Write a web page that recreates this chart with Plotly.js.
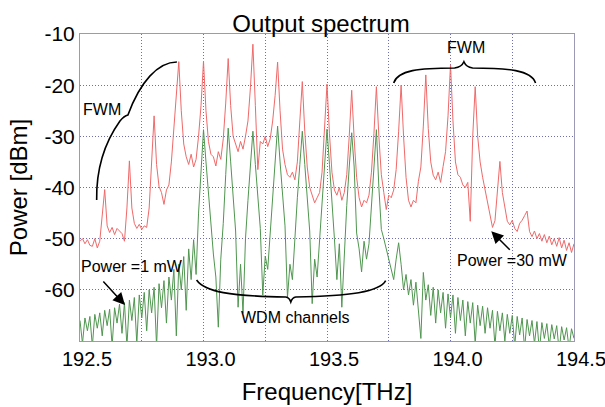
<!DOCTYPE html>
<html>
<head>
<meta charset="utf-8">
<script src="https://cdn.plot.ly/plotly-3.0.1.min.js"></script>
<style>html,body{margin:0;padding:0;background:#fff;}#chart{width:605px;height:407px;}</style>
</head>
<body>
<div id="chart"></div>
<script>
// Frequency sampling grid (THz), 0.01 THz step from 192.50 to 194.50
const freqStart = 192.5;
const freqStep = 0.01;
const freqCount = 201;

// Output power, input power = 30 mW (red)
const power30mW = [
-50.5,-50.0,-51.0,-50.2,-51.3,-51.5,-50.0,-51.8,-50.5,-46.0,
-40.4,-47.5,-48.8,-47.8,-49.2,-48.0,-48.5,-49.0,-50.5,-44.0,
-34.8,-44.0,-47.0,-48.0,-47.2,-48.2,-47.5,-47.8,-44.0,-36.0,
-26.0,-35.5,-39.8,-41.0,-43.3,-40.5,-39.5,-35.0,-28.0,-22.0,
-15.4,-25.0,-31.5,-34.0,-35.5,-33.5,-36.0,-34.5,-30.0,-24.0,
-15.3,-25.0,-31.0,-33.5,-34.0,-35.8,-33.0,-34.5,-30.5,-23.5,
-14.8,-24.0,-30.0,-31.5,-33.0,-31.0,-32.5,-30.0,-27.0,-20.5,
-12.0,-24.0,-36.5,-31.0,-31.5,-30.0,-32.0,-30.5,-27.0,-22.0,
-15.5,-25.0,-32.5,-35.5,-37.5,-38.0,-37.0,-38.5,-35.0,-27.0,
-19.3,-29.0,-36.0,-40.0,-41.5,-43.0,-42.0,-41.0,-37.0,-29.0,
-19.8,-29.5,-37.0,-40.5,-41.5,-40.0,-42.5,-41.0,-37.5,-30.0,
-21.0,-30.5,-38.0,-42.0,-43.8,-42.5,-43.0,-41.5,-37.0,-29.5,
-20.3,-30.0,-37.5,-41.0,-44.3,-41.5,-42.0,-40.5,-36.5,-29.0,
-20.0,-30.0,-38.0,-42.5,-43.8,-42.5,-43.0,-38.8,-36.0,-28.0,
-18.0,-28.5,-35.0,-37.6,-38.5,-37.0,-39.0,-35.9,-33.0,-26.0,
-16.0,-27.0,-35.0,-37.5,-38.0,-39.5,-40.0,-39.0,-46.6,-30.0,
-20.3,-30.0,-35.0,-38.0,-40.5,-43.0,-45.5,-47.8,-46.5,-41.0,
-34.9,-41.0,-43.7,-46.6,-47.3,-46.4,-48.0,-48.6,-47.0,-46.4,
-45.5,-44.6,-48.6,-49.6,-48.5,-50.0,-49.0,-50.5,-49.2,-50.8,
-49.5,-51.2,-50.0,-51.5,-49.8,-51.8,-50.3,-52.3,-50.8,-52.7,
-51.0
];

// Output power, input power = 1 mW (green)
const power1mW = [
-66.0,-70.5,-65.5,-68.0,-65.2,-71.0,-64.8,-67.5,-64.5,-69.0,
-64.0,-67.0,-63.8,-71.0,-63.5,-66.5,-62.8,-68.5,-62.5,-71.0,
-62.0,-66.0,-61.5,-70.5,-61.0,-65.5,-60.5,-68.0,-60.0,-64.5,
-59.5,-71.0,-58.8,-63.5,-58.2,-66.5,-57.5,-62.0,-56.0,-69.0,
-55.0,-60.0,-53.5,-64.0,-52.0,-58.0,-50.2,-57.0,-45.0,-37.0,
-28.7,-35.0,-41.5,-47.5,-53.0,-57.5,-67.3,-54.0,-47.0,-37.5,
-28.4,-35.0,-42.0,-48.5,-63.4,-55.0,-64.6,-50.0,-42.5,-36.0,
-29.0,-35.5,-42.0,-48.0,-61.0,-53.4,-56.0,-49.0,-41.5,-35.0,
-28.0,-35.0,-41.5,-47.5,-61.5,-55.0,-58.0,-49.5,-42.0,-35.5,
-29.0,-35.5,-42.0,-48.5,-62.7,-54.0,-57.5,-50.0,-42.5,-35.5,
-28.6,-35.5,-42.0,-50.0,-58.0,-51.0,-63.4,-53.0,-43.5,-36.0,
-29.3,-36.0,-48.9,-52.0,-56.5,-50.5,-54.0,-51.0,-43.0,-35.5,
-28.7,-40.0,-48.2,-50.0,-52.0,-53.5,-55.4,-58.0,-54.0,-50.8,
-55.0,-60.0,-57.0,-61.0,-58.0,-63.0,-58.5,-64.0,-69.5,-56.6,
-62.0,-59.0,-65.0,-59.5,-66.5,-60.0,-64.5,-60.5,-67.5,-60.8,
-65.5,-61.0,-68.5,-61.5,-66.0,-62.0,-69.0,-62.3,-66.5,-62.5,
-70.5,-63.0,-67.0,-63.2,-68.5,-63.5,-67.5,-64.0,-71.0,-64.2,
-68.0,-64.5,-70.0,-64.8,-68.5,-65.0,-71.0,-65.2,-68.8,-65.5,
-71.5,-65.8,-69.0,-66.0,-70.5,-66.2,-72.0,-66.4,-69.5,-66.6,
-71.0,-66.8,-69.6,-67.0,-72.0,-67.2,-69.8,-67.4,-71.5,-67.6,
-69.5
];

const xTickStart = 192.5;
const xTickStep = 0.5;
const yTicks = [-60, -50, -40, -30, -20, -10];
const yTickLabels = ['-60', '-50', '-40', '-30', '-20', '-10'];

const freq = [];
for (let i = 0; i < freqCount; i++) freq.push(+(freqStart + freqStep * i).toFixed(2));

const FONT = 'Arial, "Liberation Sans", Helvetica, sans-serif';
const GRID = '#6e6eb4';
const GRIDDASH = '1px,2px';

const traces = [
  {x: freq, y: power30mW, type: 'scatter', mode: 'lines', name: 'Power = 30 mW',
   line: {color: 'rgb(240,105,105)', width: 1}},
  {x: freq, y: power1mW, type: 'scatter', mode: 'lines', name: 'Power = 1 mW',
   line: {color: 'rgb(80,150,80)', width: 1}}
];

const braceStyle = {color: '#000', width: 1.6};
const shapes = [
  // left FWM brace
  {type: 'path', xref: 'x', yref: 'y', line: braceStyle,
   path: 'M 192.5675,-42.44 C 192.5647,-34.63 192.6213,-29.74 192.6618,-27.0 ' +
         'Q 192.678,-26.03 192.6941,-25.83 C 192.7427,-19.38 192.8155,-15.47 192.8923,-15.47'},
  // right FWM brace
  {type: 'path', xref: 'x', yref: 'y', line: braceStyle,
   path: 'M 193.770,-19.577 C 193.7862,-17.036 193.8751,-16.645 194.0167,-16.645 ' +
         'Q 194.045,-16.449 194.0543,-15.414 Q 194.0632,-16.449 194.0895,-16.645 ' +
         'C 194.2311,-16.645 194.3281,-17.036 194.3443,-19.577'},
  // WDM channels brace
  {type: 'path', xref: 'x', yref: 'y', line: braceStyle,
   path: 'M 192.972,-58.078 C 193.0056,-60.423 193.1067,-61.205 193.3332,-61.40 ' +
         'Q 193.3473,-61.498 193.3534,-62.378 Q 193.3594,-61.498 193.3736,-61.40 ' +
         'C 193.592,-61.205 193.7133,-60.423 193.7376,-58.215'}
];

const annFont = {family: FONT, size: 16, color: '#000'};
const annotations = [
  {x: 192.589, y: -24.66, xref: 'x', yref: 'y', text: 'FWM', showarrow: false, font: annFont},
  {x: 194.0615, y: -12.64, xref: 'x', yref: 'y', text: 'FWM', showarrow: false, font: annFont},
  {x: 193.3696, y: -65.5, xref: 'x', yref: 'y', text: 'WDM channels', showarrow: false, font: annFont},
  {x: 192.7123, y: -55.44, xref: 'x', yref: 'y', text: 'Power =1 mW', showarrow: false, font: annFont},
  {x: 194.2513, y: -54.36, xref: 'x', yref: 'y', text: 'Power =30 mW', showarrow: false, font: annFont},
  {x: 192.682, y: -62.96, xref: 'x', yref: 'y', text: '', showarrow: true,
   ax: -23, ay: -25, arrowhead: 2, arrowsize: 1.6, arrowwidth: 1.5, arrowcolor: '#000'},
  {x: 194.1651, y: -48.55, xref: 'x', yref: 'y', text: '', showarrow: true,
   ax: 20, ay: 20, arrowhead: 2, arrowsize: 1.6, arrowwidth: 1.5, arrowcolor: '#000'}
];

const layout = {
  width: 605, height: 407,
  margin: {l: 80, r: 31, t: 34, b: 66},
  paper_bgcolor: '#fff', plot_bgcolor: '#fff',
  showlegend: false,
  font: {family: FONT, color: '#000'},
  title: {text: 'Output spectrum', font: {family: FONT, size: 24, color: '#000'},
          x: 0.5306, xanchor: 'center', xref: 'container', y: 0.943, yanchor: 'middle', yref: 'container'},
  xaxis: {
    range: [192.5, 194.5], tickmode: 'linear', tick0: xTickStart, dtick: xTickStep, tickformat: '.1f',
    ticks: '', ticklabelshift: 7, ticklabeloverflow: 'allow',
    showgrid: true, gridcolor: GRID, griddash: GRIDDASH, gridwidth: 1,
    minor: {dtick: 0.25, tick0: 192.5, showgrid: true, gridcolor: GRID, griddash: GRIDDASH, gridwidth: 1},
    showline: true, mirror: true, linecolor: '#9a9ab4', linewidth: 1, zeroline: false,
    tickfont: {family: FONT, size: 20, color: '#000'},
    title: {text: 'Frequency[THz]', font: {family: FONT, size: 24, color: '#000'}, standoff: 14}
  },
  yaxis: {
    range: [-70, -10], tickmode: 'array', tickvals: yTicks, ticktext: yTickLabels,
    ticks: '', showgrid: true, gridcolor: GRID, griddash: GRIDDASH, gridwidth: 1,
    showline: true, mirror: true, linecolor: '#9a9ab4', linewidth: 1, zeroline: false,
    tickfont: {family: FONT, size: 21, color: '#000'},
    title: {text: 'Power [dBm]', font: {family: FONT, size: 24, color: '#000'}, standoff: 10}
  },
  shapes: shapes,
  annotations: annotations
};

Plotly.newPlot('chart', traces, layout, {displayModeBar: false, staticPlot: true});
</script>
</body>
</html>
